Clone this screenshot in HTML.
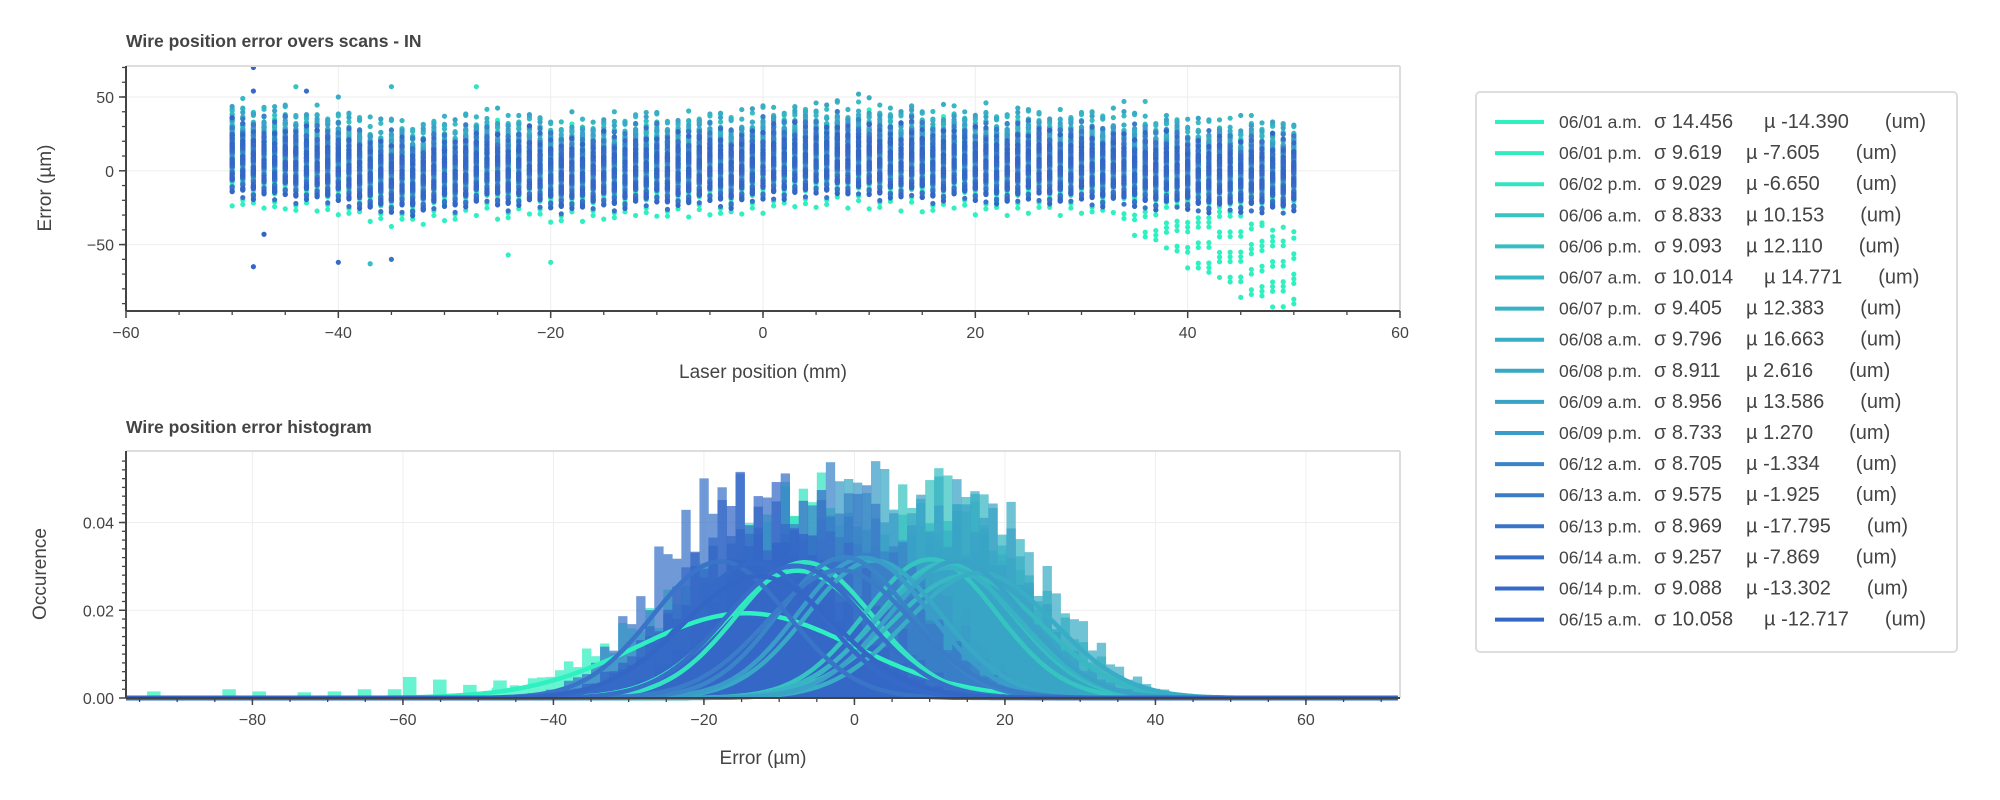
<!DOCTYPE html>
<html><head><meta charset="utf-8"><style>
html,body{margin:0;padding:0;background:#fff;}
svg{display:block;font-family:"Liberation Sans",sans-serif;}
.tk{font-size:16px;fill:#444;}
.lg{font-size:17.5px;fill:#444;white-space:pre;}
.lgn{font-size:20px;fill:#444;white-space:pre;}
</style></head><body>
<svg id="c" width="2000" height="800" viewBox="0 0 2000 800">
<defs>
<clipPath id="clipT"><rect x="126" y="66" width="1274" height="245"/></clipPath>
<clipPath id="clipB"><rect x="126" y="451" width="1274" height="247"/></clipPath>
</defs>
<rect width="2000" height="800" fill="#fff"/>
<g id="topPanel"></g>
<g id="botPanel"></g>
<g id="legPanel"></g>
</svg>
<script>
const labels=["06/01 a.m.","06/01 p.m.","06/02 p.m.","06/06 a.m.","06/06 p.m.","06/07 a.m.","06/07 p.m.","06/08 a.m.","06/08 p.m.","06/09 a.m.","06/09 p.m.","06/12 a.m.","06/13 a.m.","06/13 p.m.","06/14 a.m.","06/14 p.m.","06/15 a.m."];
const sigmas=[14.456,9.619,9.029,8.833,9.093,10.014,9.405,9.796,8.911,8.956,8.733,8.705,9.575,8.969,9.257,9.088,10.058];
const mus=[-14.390,-7.605,-6.650,10.153,12.110,14.771,12.383,16.663,2.616,13.586,1.270,-1.334,-1.925,-17.795,-7.869,-13.302,-12.717];
const sigmaText=["14.456","9.619","9.029","8.833","9.093","10.014","9.405","9.796","8.911","8.956","8.733","8.705","9.575","8.969","9.257","9.088","10.058"];
const muText=["-14.390","-7.605","-6.650","10.153","12.110","14.771","12.383","16.663","2.616","13.586","1.270","-1.334","-1.925","-17.795","-7.869","-13.302","-12.717"];
const colors=['#2ff0c0','#30ecc0','#33e4c0','#35c4c0','#36bec2','#37b8c3','#38b2c4','#39adc5','#39a8c6','#3aa2c7','#3a9cc8','#3a84c8','#3a7cc8','#3a74c8','#386ec8','#366ac8','#3466c6'];
const laserPos=[];for(let p=-50;p<=50;p++)laserPos.push(p);
const profile=[8,6,4,5,3,6,2,4,3,1,2,0,-2,-4,-5,-6,-4,-7,-6,-3,-2,-4,-1,0,2,-1,-3,0,1,-2,-3,-5,-2,-4,-3,-1,-3,-2,0,-1,1,-2,0,-1,1,2,0,-2,1,2,3,5,4,6,5,7,6,8,5,7,6,4,5,3,6,4,2,3,5,4,2,3,1,0,2,3,4,1,0,2,3,1,-1,2,0,-2,-1,-3,0,-2,-4,-3,-5,-2,-4,-6,-3,-5,-4,-6,-5];
const drift0=[0,-5,-10,-15,-18,-22,-25,-30,-34,-38,-40,-44,-48,-52,-54,-58,-62,-64];
const quant=[-2.0,-1.5,-1.0,-0.5,0,0.5,1.0,1.5,2.0,2.6];
const outX=[-48,-48,-48,-40,-37,-35,-20,-24,-47,-27,-35,-44,-43,9,34,36,-40];
const outY=[70,-65,54,-62,-63,-60,-62,-57,-43,57,57,57,54,52,47,47,50];
const outS=[16,16,15,15,4,13,1,0,16,2,5,3,14,7,5,4,7];
const jitter=[1.0,1.15,0.85,1.2,0.9,1.05,0.78,1.18,1.0,0.88,1.1,0.8,1.16,0.95,1.08,0.84,1.2,0.92,1.02,0.78,1.12,1.0,0.88];
const tail0X=[-94,-84,-80,-74,-70,-66,-62,-60,-56,-52,-48];
const tail0Y=[0.0015,0.002,0.0015,0.0013,0.0015,0.002,0.002,0.0048,0.0042,0.003,0.004];
const topXTicks=[-60,-40,-20,0,20,40,60];
const topYTicks=[-50,0,50];
const botXTicks=[-80,-60,-40,-20,0,20,40,60];
const botYTicks=[0,0.02,0.04];

const NS="http://www.w3.org/2000/svg";
function mk(tag,at,parent){const e=document.createElementNS(NS,tag);for(const k in at)e.setAttribute(k,at[k]);parent.appendChild(e);return e;}
const gTop=document.getElementById('topPanel'),gBot=document.getElementById('botPanel'),gLeg=document.getElementById('legPanel');

const T={l:126,r:1400,t:66,b:311,x0:-60,x1:60,y0:-95,y1:71};
const tx=v=>T.l+(v-T.x0)/(T.x1-T.x0)*(T.r-T.l);
const ty=v=>T.b-(v-T.y0)/(T.y1-T.y0)*(T.b-T.t);
const B={l:126,r:1400,t:451,b:698,x0:-96.8,x1:72.5,y0:0,y1:0.0563};
const bx=v=>B.l+(v-B.x0)/(B.x1-B.x0)*(B.r-B.l);
const by=v=>B.b-(v-B.y0)/(B.y1-B.y0)*(B.b-B.t);

function frame(P,g,fx,fy,xt,yt){
  xt.forEach(v=>{const l=mk('line',{x1:fx(v),x2:fx(v),y1:P.t,y2:P.b,stroke:'#eee','stroke-width':1},g);
    
    });
  yt.forEach(v=>{const l=mk('line',{x1:P.l,x2:P.r,y1:fy(v),y2:fy(v),stroke:'#eee','stroke-width':1},g);
    
    });
}
function axes(P,g,fx,fy,xt,yt,xminor,yminor,xfmt,yfmt){
  mk('line',{x1:P.l,x2:P.r,y1:P.t,y2:P.t,stroke:'#ddd','stroke-width':2},g);
  mk('line',{x1:P.r,x2:P.r,y1:P.t,y2:P.b,stroke:'#ddd','stroke-width':2},g);
  const xa=mk('line',{x1:P.l,x2:P.r,y1:P.b,y2:P.b,stroke:'#444','stroke-width':2},g);
  
  
  const ya=mk('line',{x1:P.l,x2:P.l,y1:P.t,y2:P.b,stroke:'#444','stroke-width':2},g);
  
  
  xminor.forEach(v=>mk('line',{x1:fx(v),x2:fx(v),y1:P.b,y2:P.b+4,stroke:'#444','stroke-width':1.3},g));
  yminor.forEach(v=>mk('line',{x1:P.l-4,x2:P.l,y1:fy(v),y2:fy(v),stroke:'#444','stroke-width':1.3},g));
  xt.forEach(v=>{mk('line',{x1:fx(v),x2:fx(v),y1:P.b,y2:P.b+7,stroke:'#444','stroke-width':1.5},g);
    const t=mk('text',{x:fx(v),y:P.b+27,'text-anchor':'middle',class:'tk'},g);t.textContent=xfmt(v);
    
    });
  yt.forEach(v=>{mk('line',{x1:P.l-7,x2:P.l,y1:fy(v),y2:fy(v),stroke:'#444','stroke-width':1.5},g);
    const t=mk('text',{x:P.l-12,y:fy(v)+6,'text-anchor':'end',class:'tk'},g);t.textContent=yfmt(v);
    
    });
}
const neg=s=>s.replace('-','\u2212');
frame(T,gTop,tx,ty,topXTicks,topYTicks);
const sg=mk('g',{'clip-path':'url(#clipT)'},gTop);


for(let i=0;i<labels.length;i++){
  const g=mk('g',{fill:colors[i]},sg);
  
  
  laserPos.forEach((p,j)=>{
    let c=profile[j]+3+mus[i]*0.5;
    if(i===0&&j>=83)c+=drift0[j-83];
    quant.forEach((q,k)=>{
      const extra=(k===quant.length-1)?((j*5+i*3)%7-3)*2.5:0;
      const v=c+q*sigmas[i]*0.85+((j*7+k*3+i)%5-2)*1.5+extra;
      if(v>T.y0&&v<T.y1)mk('circle',{cx:tx(p),cy:ty(v),r:2.6},g);
    });
  });
  outX.forEach((x,m)=>{if(outS[m]===i)mk('circle',{cx:tx(x),cy:ty(outY[m]),r:2.6},g);});
}
const xm1=[];for(let v=-55;v<60;v+=5)xm1.push(v);
const ym1=[];for(let v=-90;v<=70;v+=10)ym1.push(v);
axes(T,gTop,tx,ty,topXTicks,topYTicks,xm1,ym1,v=>neg(String(v)),v=>neg(String(v)));
let t;
t=mk('text',{x:126,y:47,'font-size':'17.5px','font-weight':'bold',fill:'#444'},gTop);t.textContent='Wire position error overs scans - IN';


t=mk('text',{x:763,y:378,'text-anchor':'middle','font-size':'19px',fill:'#444'},gTop);t.textContent='Laser position (mm)';


t=mk('text',{x:0,y:0,'text-anchor':'middle','font-size':'19px',fill:'#444',transform:'translate(51,188) rotate(-90)'},gTop);t.textContent='Error (\u00b5m)';



frame(B,gBot,bx,by,botXTicks,botYTicks);
const bw=1.2;
const hg=mk('g',{'clip-path':'url(#clipB)'},gBot);


for(let i=0;i<labels.length;i++){
  const g=mk('g',{fill:colors[i],opacity:0.72},hg);
  
  
  let k=0;
  for(let x=-95;x<70;x+=bw,k++){
    const c=x+bw/2;
    const pdf=Math.exp(-0.5*((c-mus[i])/sigmas[i])**2)/(sigmas[i]*2.5066);
    let h=pdf*jitter[(k+i*5)%jitter.length];
    if(h<0.0004)continue;
    mk('rect',{x:bx(x),y:by(h),width:bx(x+bw)-bx(x)+0.3,height:B.b-by(h)},g);
  }
  if(i===0)tail0X.forEach((x,m)=>mk('rect',{x:bx(x),y:by(tail0Y[m]),width:bx(x+bw*1.5)-bx(x),height:B.b-by(tail0Y[m])},g));
}
const fg=mk('g',{fill:'none','stroke-width':4.5},gBot);


for(let i=0;i<labels.length;i++){
  let d='';
  for(let x=B.x0;x<=B.x1;x+=0.5){
    const y=0.7*Math.exp(-0.5*((x-mus[i])/sigmas[i])**2)/(sigmas[i]*2.5066);
    d+=(d?'L':'M')+bx(x).toFixed(1)+','+by(y).toFixed(1);
  }
  const p=mk('path',{d:d,stroke:colors[i]},fg);
  
  
}
const xm2=[];for(let v=-95;v<=70;v+=5)xm2.push(v);
const ym2=[];for(let v=0.002;v<0.056;v+=0.002)ym2.push(v);
axes(B,gBot,bx,by,botXTicks,botYTicks,xm2,ym2,v=>neg(String(v)),v=>v.toFixed(2));
t=mk('text',{x:126,y:433,'font-size':'17.5px','font-weight':'bold',fill:'#444'},gBot);t.textContent='Wire position error histogram';


t=mk('text',{x:763,y:764,'text-anchor':'middle','font-size':'19px',fill:'#444'},gBot);t.textContent='Error (\u00b5m)';


t=mk('text',{x:0,y:0,'text-anchor':'middle','font-size':'19px',fill:'#444',transform:'translate(46,574) rotate(-90)'},gBot);t.textContent='Occurence';



mk('rect',{x:1476,y:92,width:481,height:560,rx:4,fill:'#fff',stroke:'#ddd','stroke-width':2},gLeg);
for(let i=0;i<labels.length;i++){
  const y=122+i*31.1;
  const e=mk('g',{},gLeg);
  
  
  mk('line',{x1:1495,x2:1544,y1:y,y2:y,stroke:colors[i],'stroke-width':4},e);
  const a=mk('text',{x:1559,y:y+6,class:'lg'},e);a.textContent=labels[i];
  const b=mk('text',{x:1654,y:y+6,class:'lgn'},e);b.textContent='\u03c3 '+sigmaText[i];
  const muX=sigmaText[i].length>5?1764:1746;
  const c=mk('text',{x:muX,y:y+6,class:'lgn'},e);c.textContent='\u00b5 '+muText[i];
  let w=0;try{w=c.getComputedTextLength();}catch(err){w=90;}
  const u=mk('text',{x:muX+w+36,y:y+6,class:'lgn'},e);u.textContent='(um)';
}
</script>
</body></html>
